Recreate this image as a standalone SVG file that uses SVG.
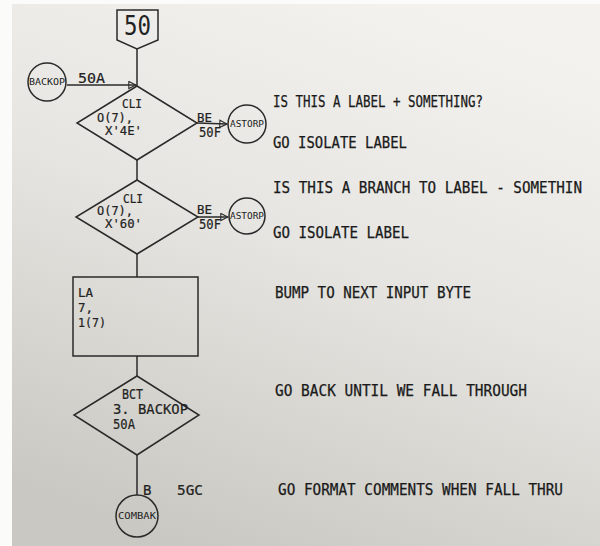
<svg xmlns="http://www.w3.org/2000/svg" width="600" height="546" viewBox="0 0 600 546">
<defs>
<linearGradient id="paper" x1="0.7" y1="0" x2="0.3" y2="1">
<stop offset="0" stop-color="#f3f2ef"/>
<stop offset="0.45" stop-color="#e6e5e1"/>
<stop offset="1" stop-color="#cac8c2"/>
</linearGradient>
<marker id="open" viewBox="0 0 10 10" refX="9" refY="5" markerWidth="9" markerHeight="9" markerUnits="userSpaceOnUse" orient="auto">
<path d="M1,1 L9,5 L1,9 Z" fill="none" stroke="#2a2a2a" stroke-width="1.2"/>
</marker>
<style>
.s{fill:none;stroke:#2a2a2a;stroke-width:1.5}
.t{font-family:"DejaVu Sans Mono","Liberation Mono",monospace;fill:#222;font-size:12px;stroke:#222;stroke-width:0.2}
.m{font-family:"DejaVu Sans Mono","Liberation Mono",monospace;fill:#222;font-size:14px;stroke:#222;stroke-width:0.2}
.r{font-family:"DejaVu Sans Mono","Liberation Mono",monospace;fill:#222;font-size:12.5px;stroke:#222;stroke-width:0.2}
.c{font-family:"DejaVu Sans Mono","Liberation Mono",monospace;fill:#222;font-size:8px}
.big{font-family:"DejaVu Sans Mono","Liberation Mono",monospace;fill:#222;font-size:27px}
.n{font-family:"DejaVu Sans Mono","Liberation Mono",monospace;fill:#1a1a1a;font-size:15px;stroke:#1a1a1a;stroke-width:0.25}
</style>
</defs>
<rect width="600" height="546" fill="#fbfbfa"/>
<rect x="12" y="4" width="588" height="542" fill="url(#paper)"/>

<g id="connectors">
<line class="s" x1="137" y1="49" x2="137" y2="86"/>
<line class="s" x1="67" y1="85" x2="136" y2="85" marker-end="url(#open)"/>
<line class="s" x1="197" y1="123" x2="227" y2="124" marker-end="url(#open)"/>
<line class="s" x1="137" y1="160" x2="137" y2="180"/>
<line class="s" x1="197" y1="217" x2="228" y2="217" marker-end="url(#open)"/>
<line class="s" x1="137" y1="254" x2="137" y2="277"/>
<line class="s" x1="137" y1="356" x2="137" y2="376"/>
<line class="s" x1="137" y1="455" x2="137" y2="495"/>
<text class="m" x="78" y="83" textLength="27" lengthAdjust="spacingAndGlyphs">50A</text>
<text class="t" x="197" y="122" textLength="15" lengthAdjust="spacingAndGlyphs">BE</text>
<text class="m" x="199" y="137" textLength="22" lengthAdjust="spacingAndGlyphs">50F</text>
<text class="t" x="197" y="214" textLength="15" lengthAdjust="spacingAndGlyphs">BE</text>
<text class="m" x="199" y="229" textLength="22" lengthAdjust="spacingAndGlyphs">50F</text>
<text class="m" x="143" y="495">B</text>
<text class="m" x="177" y="495" textLength="26" lengthAdjust="spacingAndGlyphs">5GC</text>
</g>

<g id="entry50">
<path class="s" d="M117,10 H158 V40 L137,49 L117,40 Z"/>
<text class="big" x="124" y="35" textLength="27" lengthAdjust="spacingAndGlyphs">50</text>
</g>

<g id="backop">
<circle class="s" cx="47" cy="82" r="19"/>
<text class="c" x="29" y="85" textLength="36" lengthAdjust="spacingAndGlyphs">BACKOP</text>
</g>

<g id="cli1">
<path class="s" d="M137,86 L197,123 L137,160 L77,123 Z"/>
<text class="t" x="122" y="108" textLength="20" lengthAdjust="spacingAndGlyphs">CLI</text>
<text class="t" x="97" y="122" textLength="36" lengthAdjust="spacingAndGlyphs">O(7),</text>
<text class="t" x="105" y="135" textLength="37" lengthAdjust="spacingAndGlyphs">X'4E'</text>
</g>

<g id="astorp1">
<circle class="s" cx="247" cy="124" r="19"/>
<text class="c" x="230" y="127" textLength="34" lengthAdjust="spacingAndGlyphs">ASTORP</text>
</g>

<g id="cli2">
<path class="s" d="M137,180 L198,217 L137,254 L76,217 Z"/>
<text class="t" x="123" y="203" textLength="20" lengthAdjust="spacingAndGlyphs">CLI</text>
<text class="t" x="97" y="215" textLength="36" lengthAdjust="spacingAndGlyphs">O(7),</text>
<text class="t" x="105" y="228" textLength="37" lengthAdjust="spacingAndGlyphs">X'60'</text>
</g>

<g id="astorp2">
<circle class="s" cx="247" cy="216" r="18"/>
<text class="c" x="230" y="219" textLength="34" lengthAdjust="spacingAndGlyphs">ASTORP</text>
</g>

<g id="la">
<rect class="s" x="73" y="277" width="125" height="79"/>
<text class="r" x="78" y="297">LA</text>
<text class="r" x="78" y="312">7,</text>
<text class="r" x="78" y="327" textLength="28" lengthAdjust="spacingAndGlyphs">1(7)</text>
</g>

<g id="bct">
<path class="s" d="M137,376 L199,415 L137,455 L74,415 Z"/>
<text class="m" x="122" y="399" textLength="21" lengthAdjust="spacingAndGlyphs">BCT</text>
<text class="m" x="113" y="414" textLength="75" lengthAdjust="spacingAndGlyphs">3. BACKOP</text>
<text class="m" x="113" y="429" textLength="22" lengthAdjust="spacingAndGlyphs">50A</text>
</g>

<g id="combak">
<circle class="s" cx="137" cy="516" r="21"/>
<text class="c" x="118" y="519" textLength="38" lengthAdjust="spacingAndGlyphs">COMBAK</text>
</g>

<g id="comments">
<text class="n" x="273" y="107" textLength="210" lengthAdjust="spacingAndGlyphs">IS THIS A LABEL + SOMETHING?</text>
<text class="n" x="273" y="148" textLength="134" lengthAdjust="spacingAndGlyphs">GO ISOLATE LABEL</text>
<text class="n" x="273" y="193" textLength="309" lengthAdjust="spacingAndGlyphs">IS THIS A BRANCH TO LABEL - SOMETHIN</text>
<text class="n" x="273" y="238" textLength="136" lengthAdjust="spacingAndGlyphs">GO ISOLATE LABEL</text>
<text class="n" x="275" y="298" textLength="196" lengthAdjust="spacingAndGlyphs">BUMP TO NEXT INPUT BYTE</text>
<text class="n" x="275" y="396" textLength="252" lengthAdjust="spacingAndGlyphs">GO BACK UNTIL WE FALL THROUGH</text>
<text class="n" x="278" y="495" textLength="285" lengthAdjust="spacingAndGlyphs">GO FORMAT COMMENTS WHEN FALL THRU</text>
</g>
</svg>
